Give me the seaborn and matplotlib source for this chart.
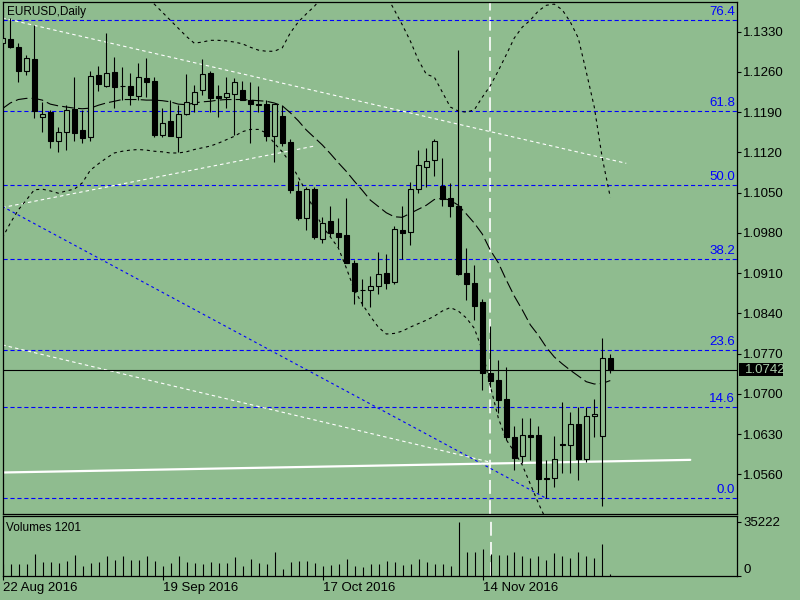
import matplotlib
matplotlib.use("Agg")
import matplotlib.pyplot as plt
import matplotlib.transforms as mtransforms
from matplotlib.patches import Rectangle
import numpy as np
import pandas as pd
import seaborn as sns

# ---------------- data ----------------
symbol_title = "EURUSD,Daily"
volume_title = "Volumes 1201"
date_ticks = [0, 20, 40, 60]
date_labels = ["22 Aug 2016", "19 Sep 2016", "17 Oct 2016", "14 Nov 2016"]

opens = [1.1310, 1.1317, 1.1304, 1.1262, 1.1283, 1.1181, 1.1191, 1.1140, 1.1155, 1.1195,
         1.1159, 1.1146, 1.1255, 1.1236, 1.1260, 1.1236, 1.1236, 1.1219, 1.1249, 1.1244,
         1.1150, 1.1175, 1.1147, 1.1187, 1.1205, 1.1229, 1.1259, 1.1218, 1.1216, 1.1221,
         1.1229, 1.1212, 1.1205, 1.1204, 1.1149, 1.1183, 1.1138, 1.1053, 1.1006, 1.1056,
         1.0969, 1.1001, 1.0979, 1.0976, 1.0928, 1.0881, 1.0881, 1.0888, 1.0910, 1.0895,
         1.0985, 1.0981, 1.1056, 1.1095, 1.1106, 1.1062, 1.1040, 1.1027, 1.0910, 1.0892,
         1.0860, 1.0737, 1.0724, 1.0691, 1.0625, 1.0592, 1.0628, 1.0628, 1.0553, 1.0553,
         1.0613, 1.0610, 1.0647, 1.0586, 1.0661, 1.0627, 1.0763]
highs = [1.1324, 1.1353, 1.1311, 1.1290, 1.1342, 1.1208, 1.1193, 1.1165, 1.1203, 1.1251,
         1.1194, 1.1262, 1.1270, 1.1327, 1.1286, 1.1268, 1.1259, 1.1275, 1.1284, 1.1251,
         1.1197, 1.1211, 1.1203, 1.1256, 1.1237, 1.1282, 1.1262, 1.1237, 1.1251, 1.1249,
         1.1244, 1.1243, 1.1236, 1.1212, 1.1205, 1.1203, 1.1143, 1.1071, 1.1060, 1.1059,
         1.1007, 1.1027, 1.1005, 1.1040, 1.0933, 1.0899, 1.0905, 1.0947, 1.0943, 1.0992,
         1.1026, 1.1069, 1.1124, 1.1127, 1.1143, 1.1110, 1.1066, 1.1299, 1.0953, 1.0924,
         1.0865, 1.0818, 1.0759, 1.0746, 1.0644, 1.0657, 1.0657, 1.0644, 1.0585, 1.0627,
         1.0685, 1.0669, 1.0677, 1.0677, 1.0691, 1.0797, 1.0770]
lows = [1.1307, 1.1302, 1.1243, 1.1255, 1.1180, 1.1156, 1.1127, 1.1121, 1.1124, 1.1139,
        1.1137, 1.1139, 1.1226, 1.1233, 1.1197, 1.1211, 1.1203, 1.1211, 1.1217, 1.1146,
        1.1146, 1.1148, 1.1120, 1.1185, 1.1191, 1.1220, 1.1191, 1.1182, 1.1197, 1.1150,
        1.1211, 1.1137, 1.1191, 1.1139, 1.1104, 1.1131, 1.1049, 1.1002, 1.0985, 1.0970,
        1.0962, 1.0973, 1.0955, 1.0927, 1.0857, 1.0853, 1.0851, 1.0874, 1.0882, 1.0891,
        1.0935, 1.0959, 1.1050, 1.1059, 1.1079, 1.1026, 1.1008, 1.0907, 1.0863, 1.0828,
        1.0707, 1.0712, 1.0666, 1.0620, 1.0567, 1.0579, 1.0584, 1.0527, 1.0518, 1.0538,
        1.0562, 1.0562, 1.0550, 1.0581, 1.0624, 1.0505, 1.0737]
closes = [1.1319, 1.1304, 1.1262, 1.1284, 1.1192, 1.1187, 1.1139, 1.1156, 1.1194, 1.1153,
          1.1145, 1.1253, 1.1239, 1.1259, 1.1234, 1.1235, 1.1220, 1.1251, 1.1243, 1.1150,
          1.1172, 1.1149, 1.1186, 1.1207, 1.1225, 1.1256, 1.1215, 1.1215, 1.1223, 1.1243,
          1.1212, 1.1205, 1.1203, 1.1149, 1.1204, 1.1137, 1.1055, 1.1006, 1.1056, 1.0972,
          1.0998, 1.0980, 1.0973, 1.0928, 1.0879, 1.0880, 1.0888, 1.0908, 1.0893, 1.0987,
          1.0979, 1.1056, 1.1098, 1.1105, 1.1140, 1.1039, 1.1026, 1.0908, 1.0891, 1.0853,
          1.0737, 1.0723, 1.0689, 1.0625, 1.0588, 1.0628, 1.0625, 1.0552, 1.0552, 1.0586,
          1.0610, 1.0647, 1.0586, 1.0661, 1.0665, 1.0763, 1.0742]
volumes = [8000, 7800, 7800, 7800, 14300, 8900, 8900, 8250, 9750, 13650,
           6500, 8250, 8900, 13000, 10400, 13000, 10200, 10200, 13000, 9750,
           6500, 8250, 13000, 8900, 8250, 7800, 8900, 8250, 8250, 12350,
           6500, 11050, 8250, 7800, 15600, 4550, 8900, 9750, 9750, 8250,
           6500, 7150, 7600, 11050, 6500, 6050, 7600, 7800, 9750, 9100,
           7150, 7800, 11050, 8900, 7800, 7800, 6500, 35222, 15600, 15600,
           17350, 14100, 13650, 13650, 15600, 13000, 11900, 13000, 10400, 14950,
           13000, 11900, 15600, 13000, 11900, 20800, 1100]
volume_max = 35222

# Bollinger-type bands
band_mid = [1.1196, 1.1206, 1.1212, 1.1214, 1.1214, 1.1211, 1.1204, 1.1201, 1.1199, 1.1197,
            1.1196, 1.1197, 1.1202, 1.1206, 1.1209, 1.1212, 1.1212, 1.1212, 1.1211, 1.1211,
            1.1210, 1.1208, 1.1204, 1.1203, 1.1206, 1.1208, 1.1209, 1.1211, 1.1212, 1.1212,
            1.1212, 1.1211, 1.1210, 1.1209, 1.1206, 1.1201, 1.1189, 1.1175, 1.1159, 1.1146,
            1.1133, 1.1118, 1.1102, 1.1087, 1.1070, 1.1054, 1.1037, 1.1026, 1.1015, 1.1008,
            1.1007, 1.1014, 1.1021, 1.1028, 1.1038, 1.1040, 1.1037, 1.1028, 1.1013, 1.0997,
            1.0978, 1.0950, 1.0928, 1.0898, 1.0870, 1.0846, 1.0820, 1.0802, 1.0781, 1.0764,
            1.0752, 1.0741, 1.0731, 1.0721, 1.0717, 1.0718, 1.0723]
band_up_bars = list(range(18, 41)) + list(range(48, 77))
band_up = [1.1392, 1.1378, 1.1364, 1.1350, 1.1336, 1.1322, 1.1310, 1.1312, 1.1315, 1.1315,
           1.1314, 1.1312, 1.1309, 1.1303, 1.1298, 1.1296, 1.1296, 1.1302, 1.1328, 1.1347,
           1.1361, 1.1374, 1.1391,
           1.1394, 1.1368, 1.1342, 1.1314, 1.1281, 1.1256, 1.1251, 1.1225, 1.1199, 1.1192,
           1.1190, 1.1194, 1.1216, 1.1236, 1.1262, 1.1290, 1.1319, 1.1338, 1.1350, 1.1366,
           1.1376, 1.1378, 1.1368, 1.1347, 1.1319, 1.1260, 1.1199, 1.1110, 1.1042]
band_low_bars = list(range(0, 69))
band_low = [1.0971, 1.0997, 1.1020, 1.1037, 1.1055, 1.1056, 1.1053, 1.1049, 1.1053, 1.1056,
            1.1067, 1.1089, 1.1100, 1.1110, 1.1119, 1.1122, 1.1124, 1.1125, 1.1124, 1.1122,
            1.1121, 1.1119, 1.1119, 1.1121, 1.1125, 1.1128, 1.1131, 1.1136, 1.1142, 1.1148,
            1.1156, 1.1160, 1.1160, 1.1154, 1.1136, 1.1121, 1.1102, 1.1077, 1.1051, 1.1018,
            1.0992, 1.0973, 1.0954, 1.0919, 1.0881, 1.0856, 1.0835, 1.0816, 1.0804, 1.0805,
            1.0809, 1.0816, 1.0822, 1.0828, 1.0835, 1.0844, 1.0850, 1.0844, 1.0832, 1.0814,
            1.0776, 1.0714, 1.0658, 1.0620, 1.0599, 1.0576, 1.0543, 1.0510, 1.0480]

# Fibonacci levels (label, price)
fib_labels = ["76.4", "61.8", "50.0", "38.2", "23.6", "14.6", "0.0"]
fib_prices = [1.1350, 1.1192, 1.1063, 1.0935, 1.0776, 1.0677, 1.0519]

# trend lines (bar anchors, price anchors)
channel_top_bars, channel_top = [0, 78], [1.1354, 1.1101]
channel_bot_bars, channel_bot = [0, 61], [1.0785, 1.0581]
support_bars, support = [0, 39], [1.1024, 1.1131]
blue_diag_bars, blue_diag = [0, 68], [1.1026, 1.0518]
white_solid_bars, white_solid = [0, 86], [1.0563, 1.0585]
vline_bar = 61

current_price = 1.0742
price_ticks = [1.0560, 1.0630, 1.0700, 1.0770, 1.0840, 1.0910, 1.0980, 1.1050,
               1.1120, 1.1190, 1.1260, 1.1330]

# ---------------- style ----------------
BG = "#8FBC8F"
sns.set_theme(style="ticks")
plt.rcParams["font.family"] = ["Liberation Sans", "DejaVu Sans"]
plt.rcParams["lines.scale_dashes"] = False
plt.rcParams["axes.facecolor"] = BG
plt.rcParams["figure.facecolor"] = BG
plt.rcParams["axes.edgecolor"] = "black"
plt.rcParams["xtick.color"] = "black"
plt.rcParams["ytick.color"] = "black"

fig = plt.figure(figsize=(8, 6), dpi=100)
ax = fig.add_axes([3 / 800, 86 / 600, 734 / 800, 512 / 600])
vax = fig.add_axes([3 / 800, 24 / 600, 734 / 800, 60 / 600])

XMIN, XMAX = 0.0875, 91.84
YMIN, YMAX = 1.04908, 1.13817

df = pd.DataFrame({"bar": np.arange(len(opens)), "open": opens, "high": highs,
                   "low": lows, "close": closes, "volume": volumes})

# fib levels
blend = mtransforms.blended_transform_factory(ax.transAxes, ax.transData)
for lab, p in zip(fib_labels, fib_prices):
    ax.axhline(p, color="#0000FF", lw=0.8, linestyle=(0, (3.0, 2.0)), zorder=2)
    ax.text(0.9975, p + 0.0003, lab, transform=blend, ha="right", va="bottom",
            color="#0000FF", fontsize=9.5, zorder=3)

# trend lines
sns.lineplot(x=channel_top_bars, y=channel_top, ax=ax, color="white", lw=0.8,
             linestyle=(0, (2.5, 2.2)), zorder=2)
sns.lineplot(x=channel_bot_bars, y=channel_bot, ax=ax, color="white", lw=0.8,
             linestyle=(0, (2.5, 2.2)), zorder=2)
sns.lineplot(x=support_bars, y=support, ax=ax, color="white", lw=0.8,
             linestyle=(0, (2.5, 2.2)), zorder=2)
sns.lineplot(x=blue_diag_bars, y=blue_diag, ax=ax, color="#0000FF", lw=0.8,
             linestyle=(0, (2.0, 2.2)), zorder=2)
sns.lineplot(x=white_solid_bars, y=white_solid, ax=ax, color="white", lw=1.6,
             zorder=2)

# bands
sns.lineplot(x=band_up_bars, y=band_up, ax=ax, color="black", lw=0.8,
             linestyle=(0, (2.2, 2.6)), zorder=3, errorbar=None)
sns.lineplot(x=band_low_bars, y=band_low, ax=ax, color="black", lw=0.8,
             linestyle=(0, (2.2, 2.6)), zorder=3, errorbar=None)
sns.lineplot(x=df["bar"], y=band_mid, ax=ax, color="black", lw=0.8,
             linestyle=(0, (8.5, 3.0)), zorder=3, errorbar=None)

# vertical white dashed line
for a in (ax, vax):
    a.axvline(vline_bar, color="white", lw=1.2, linestyle=(0, (10, 4.5)), zorder=1.5)

# current price line
ax.axhline(current_price, color="black", lw=0.8, zorder=4)

# candles
bull = df["close"] >= df["open"]
body_low = np.minimum(df["open"], df["close"])
body_h = np.abs(df["close"] - df["open"])
ax.vlines(df["bar"], df["low"], df["high"], color="black", lw=0.8, zorder=5)
ax.bar(df["bar"], body_h, bottom=body_low, width=0.62,
       color=np.where(bull, BG, "black"), edgecolor="black", linewidth=0.8, zorder=6)

# volumes
vax.vlines(df["bar"], 0, df["volume"], color="black", lw=0.8, zorder=3)

# axes setup
ax.set_xlim(XMIN, XMAX)
ax.set_ylim(YMIN, YMAX)
vax.set_xlim(XMIN, XMAX)
vax.set_ylim(0, volume_max * 60 / 54)
for a in (ax, vax):
    a.set_xlabel("")
    a.set_ylabel("")
    a.set_facecolor(BG)
    for s in a.spines.values():
        s.set_visible(True)
        s.set_color("black")
        s.set_linewidth(0.9)
    a.yaxis.tick_right()
    a.tick_params(axis="y", direction="out", length=3, width=0.8, pad=1.5,
                  labelsize=9.5, colors="black")
    a.grid(False)

ax.set_yticks(price_ticks)
ax.set_yticklabels([f"{t:.4f}" for t in price_ticks])
ax.set_xticks([])

vax.set_yticks([0, volume_max])
vax.set_yticklabels(["0", str(volume_max)])
vax.get_yticklabels()[0].set_va("bottom")
vax.set_xticks(date_ticks)
vax.set_xticklabels(date_labels)
vax.tick_params(axis="x", direction="out", length=3, width=0.8, pad=1.5,
                labelsize=9.5, colors="black")
plt.setp(vax.get_xticklabels(), ha="left")

# titles
ax.text(0.0055, 0.981, symbol_title, transform=ax.transAxes, ha="left", va="center",
        fontsize=8.5, color="black", zorder=7)
vax.text(0.004, 0.80, volume_title, transform=vax.transAxes, ha="left", va="center",
         fontsize=8.5, color="black", zorder=7)

# current price box on the axis
ph = 12.5 / 5748
ax.add_patch(Rectangle((736 / 734, current_price - ph / 2), 44 / 734, ph, transform=blend,
                       facecolor="black", edgecolor="none", clip_on=False, zorder=8))
ax.text(742 / 734, current_price, f"{current_price:.4f}", transform=blend,
        ha="left", va="center", fontsize=9.5, color="#A8CCA8", clip_on=False, zorder=9)

fig.savefig("out.png", dpi=100, facecolor=BG)
